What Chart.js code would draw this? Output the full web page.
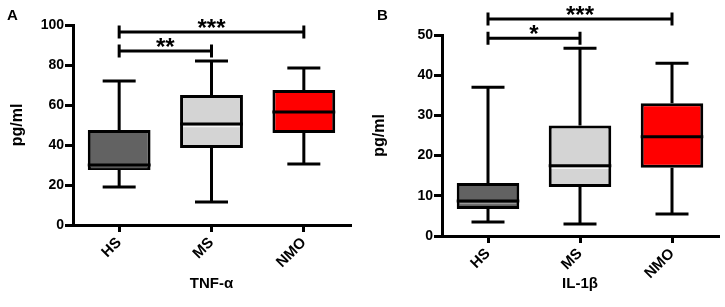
<!DOCTYPE html>
<html lang="en">
<head>
<meta charset="UTF-8">
<title>TNF-α and IL-1β box plots</title>
<script src="https://cdn.jsdelivr.net/npm/chart.js"></script>
<style>
  body { margin: 0; background: #fff; }
  .wrap { position: relative; width: 725px; height: 307px; }
  canvas { position: absolute; top: 0; }
</style>
</head>
<body>
<div class="wrap">
  <canvas id="chartA" width="360" height="307" style="left:0"></canvas>
  <canvas id="chartB" width="363" height="307" style="left:362px"></canvas>
</div>
<script>
// groups on the x axis
const groups = ['HS', 'MS', 'NMO'];

// TNF-α (pg/ml): whisker min, Q1, median, Q3, whisker max
const tnfMin = [19, 11.5, 30.5];
const tnfQ1 = [27.5, 38.5, 46];
const tnfMed = [30, 50.5, 56.5];
const tnfQ3 = [47.5, 65, 67.5];
const tnfMax = [72, 82, 78.5];
const tnfTicks = [0, 20, 40, 60, 80, 100];
const tnfSig = [
  { from: 0, to: 2, y: 96.5, label: '***' },
  { from: 0, to: 1, y: 87, label: '**' }
];

// IL-1β (pg/ml)
const ilMin = [3.5, 3, 5.5];
const ilQ1 = [6.7, 12.2, 17];
const ilMed = [8.7, 17.5, 24.7];
const ilQ3 = [13.2, 27.5, 33];
const ilMax = [37, 46.7, 43];
const ilTicks = [0, 10, 20, 30, 40, 50];
const ilSig = [
  { from: 0, to: 2, y: 54, label: '***' },
  { from: 0, to: 1, y: 49.2, label: '*' }
];

const boxColors = ['#626262', '#d4d4d4', '#ff0000'];
// light stripe under the median, as in the original export
const medianGlow = ['rgba(255,255,255,0.35)', 'rgba(255,255,255,0.8)', null];
const FONT = '"Liberation Sans", Arial, sans-serif';

// whiskers, medians and significance brackets, all placed through the scales
const boxPlugin = {
  id: 'boxExtras',
  beforeDatasetsDraw(chart) {
    const st = chart.config.options.plugins.boxExtras;
    const xs = chart.scales.x, ys = chart.scales.y;
    const c = chart.ctx;
    c.save();
    c.strokeStyle = '#000';
    c.lineWidth = 3;
    for (let i = 0; i < groups.length; i++) {
      const x = xs.getPixelForValue(i);
      const cap = 16.5;
      c.beginPath();
      c.moveTo(x, ys.getPixelForValue(st.max[i]));
      c.lineTo(x, ys.getPixelForValue(st.q3[i]));
      c.moveTo(x, ys.getPixelForValue(st.q1[i]));
      c.lineTo(x, ys.getPixelForValue(st.min[i]));
      c.moveTo(x - cap, ys.getPixelForValue(st.max[i]));
      c.lineTo(x + cap, ys.getPixelForValue(st.max[i]));
      c.moveTo(x - cap, ys.getPixelForValue(st.min[i]));
      c.lineTo(x + cap, ys.getPixelForValue(st.min[i]));
      c.stroke();
    }
    c.restore();
  },
  afterDatasetsDraw(chart) {
    const st = chart.config.options.plugins.boxExtras;
    const xs = chart.scales.x, ys = chart.scales.y;
    const meta = chart.getDatasetMeta(0);
    const c = chart.ctx;
    c.save();
    for (let i = 0; i < groups.length; i++) {
      const bar = meta.data[i];
      const y = ys.getPixelForValue(st.med[i]);
      const l = bar.x - bar.width / 2 + 3, r = bar.x + bar.width / 2 - 3;
      if (medianGlow[i]) {
        c.strokeStyle = medianGlow[i];
        c.lineWidth = 1.5;
        c.beginPath();
        c.moveTo(l, y + 2.5);
        c.lineTo(r, y + 2.5);
        c.stroke();
      }
      c.strokeStyle = '#000';
      c.lineWidth = 3;
      c.beginPath();
      c.moveTo(bar.x - bar.width / 2, y);
      c.lineTo(bar.x + bar.width / 2, y);
      c.stroke();
    }
    // significance brackets
    c.strokeStyle = '#000';
    c.lineWidth = 3;
    c.fillStyle = '#000';
    c.font = 'bold 24px ' + FONT;
    c.textAlign = 'center';
    c.textBaseline = 'alphabetic';
    st.sig.forEach(s => {
      const x1 = xs.getPixelForValue(s.from), x2 = xs.getPixelForValue(s.to);
      const y = ys.getPixelForValue(s.y);
      c.beginPath();
      c.moveTo(x1, y); c.lineTo(x2, y);
      c.moveTo(x1, y - 6.5); c.lineTo(x1, y + 6.5);
      c.moveTo(x2, y - 6.5); c.lineTo(x2, y + 6.5);
      c.stroke();
      c.fillText(s.label, (x1 + x2) / 2, y + 4);
    });
    // panel letter
    c.font = 'bold 15px ' + FONT;
    c.textAlign = 'left';
    c.textBaseline = 'top';
    c.fillText(st.letter, st.letterX, 8);
    c.restore();
  }
};

function makeChart(id, cfg) {
  return new Chart(document.getElementById(id), {
    type: 'bar',
    data: {
      labels: groups,
      datasets: [{
        data: groups.map((g, i) => [cfg.q1[i], cfg.q3[i]]),
        backgroundColor: boxColors,
        borderColor: '#000',
        borderWidth: 3,
        borderSkipped: false,
        barPercentage: 0.68,
        categoryPercentage: 1
      }]
    },
    options: {
      responsive: false,
      animation: false,
      layout: { padding: { top: cfg.top, right: cfg.right, bottom: 12, left: 0 } },
      plugins: {
        legend: { display: false },
        tooltip: { enabled: false },
        boxExtras: {
          min: cfg.min, q1: cfg.q1, med: cfg.med, q3: cfg.q3, max: cfg.max,
          sig: cfg.sig, letter: cfg.letter, letterX: cfg.letterX
        }
      },
      scales: {
        x: {
          offset: true,
          grid: { display: true, drawOnChartArea: false, offset: false, tickLength: 7, color: '#000', lineWidth: 3 },
          border: { display: true, color: '#000', width: 3 },
          ticks: { color: '#000', font: { family: FONT, weight: 'bold', size: 15 }, minRotation: 45, maxRotation: 45, padding: 2 },
          title: { display: true, text: cfg.xTitle, color: '#000', font: { family: FONT, weight: 'bold', size: 15 }, padding: { top: 2, bottom: 2 } },
          afterFit(scale) { scale.height = 307 - 12 - cfg.bottom; }
        },
        y: {
          min: 0,
          max: cfg.ticks[cfg.ticks.length - 1],
          afterBuildTicks(scale) { scale.ticks = cfg.ticks.map(v => ({ value: v })); },
          grid: { display: true, drawOnChartArea: false, tickLength: 8, color: '#000', lineWidth: 3 },
          border: { display: true, color: '#000', width: 3 },
          ticks: { color: '#000', font: { family: FONT, weight: 'bold', size: 14 }, padding: 1 },
          title: { display: true, text: 'pg/ml', color: '#000', font: { family: FONT, weight: 'bold', size: 16 }, padding: { top: 8, bottom: 0 } },
          afterFit(scale) { scale.width = cfg.axisX; }
        }
      }
    },
    plugins: [boxPlugin]
  });
}

makeChart('chartA', {
  min: tnfMin, q1: tnfQ1, med: tnfMed, q3: tnfQ3, max: tnfMax,
  ticks: tnfTicks, sig: tnfSig, xTitle: 'TNF-α',
  letter: 'A', letterX: 7, top: 25, bottom: 225, right: 10, axisX: 73
});

makeChart('chartB', {
  min: ilMin, q1: ilQ1, med: ilMed, q3: ilQ3, max: ilMax,
  ticks: ilTicks, sig: ilSig, xTitle: 'IL-1β',
  letter: 'B', letterX: 15, top: 35, bottom: 236, right: 7, axisX: 80
});
</script>
</body>
</html>
